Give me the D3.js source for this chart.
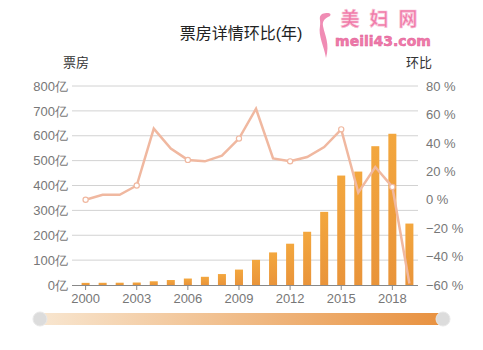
<!DOCTYPE html>
<html>
<head>
<meta charset="utf-8">
<script src="https://cdn.jsdelivr.net/npm/d3@7"></script>
<style>
  body { margin: 0; background: #fff; }
  svg { display: block; font-family: "Liberation Sans", "Noto Sans CJK SC", sans-serif; }
  .axis text { fill: #777; font-size: 13px; }
  .axis path, .axis line { stroke: #888; }
</style>
</head>
<body>
<div id="chart"></div>
<script>
const years = d3.range(2000, 2020).map(String);
const boxOffice = [8.6, 8.9, 9.2, 10, 15, 20, 26, 33, 44, 62, 101, 131, 166, 214, 294, 440, 456, 558, 608, 247];
const ratio = [0, 3.5, 3.5, 10, 50, 36, 28, 27, 31, 43, 64, 29, 27, 30, 37, 49.5, 5, 23, 9, -59];
const leftTicks = [0, 100, 200, 300, 400, 500, 600, 700, 800];
const rightTicks = [-60, -40, -20, 0, 20, 40, 60, 80];
const xTickYears = ['2000', '2003', '2006', '2009', '2012', '2015', '2018'];

function drawChart() {
    const W = 483, H = 350;
    const svg = d3.select('#chart').append('svg')
        .attr('width', W)
        .attr('height', H);

    const top = 86, bottom = 285, left = 77, right = 418;

    const x = d3.scaleBand().domain(years).range([left, right]).paddingInner(0.53).paddingOuter(0.27);
    const yL = d3.scaleLinear().domain([0, 800]).range([bottom, top]);
    const yR = d3.scaleLinear().domain([-60, 80]).range([bottom, top]);

    const defs = svg.append('defs');
    const barGrad = defs.append('linearGradient').attr('id', 'barGrad')
        .attr('x1', 0).attr('y1', 0).attr('x2', 0).attr('y2', 1);
    barGrad.append('stop').attr('offset', '0%').attr('stop-color', '#f3a73e');
    barGrad.append('stop').attr('offset', '100%').attr('stop-color', '#e9943a');

    const slideGrad = defs.append('linearGradient').attr('id', 'slideGrad');
    slideGrad.append('stop').attr('offset', '0%').attr('stop-color', '#f8e6d0');
    slideGrad.append('stop').attr('offset', '100%').attr('stop-color', '#e8913f');

    // Title + axis names
    svg.append('text')
        .attr('x', 241).attr('y', 39)
        .attr('text-anchor', 'middle')
        .style('font-size', '16px').style('fill', '#222')
        .text('票房详情环比(年)');
    svg.append('text').attr('x', 76).attr('y', 67).attr('text-anchor', 'middle')
        .style('font-size', '13px').style('fill', '#333').text('票房');
    svg.append('text').attr('x', 419).attr('y', 67).attr('text-anchor', 'middle')
        .style('font-size', '13px').style('fill', '#333').text('环比');

    // Watermark
    svg.append('path')
        .attr('d', 'M322,14 C328,12 332,13 330,16 C326,18 322,20 323,26 C325,36 330,44 326,58 C324,46 318,36 320,26 C321,20 318,17 322,14 Z')
        .attr('fill', '#f08cb4');
    svg.append('text')
        .attr('x', 384).attr('y', 26).attr('text-anchor', 'middle')
        .style('font-size', '19px').style('font-weight', 'bold')
        .style('letter-spacing', '10px')
        .style('font-family', '"Noto Sans CJK SC", sans-serif')
        .attr('fill', '#f07aa8').attr('stroke', '#f8c4d8').attr('stroke-width', 0.6)
        .text('美妇网');
    svg.append('text')
        .attr('x', 383).attr('y', 46).attr('text-anchor', 'middle')
        .style('font-size', '14px').style('font-weight', 'bold')
        .style('font-family', '"DejaVu Sans", sans-serif')
        .attr('fill', '#f07aa8').attr('stroke', '#e0609a').attr('stroke-width', 0.5)
        .text('meili43.com');

    // Grid lines
    svg.append('g').selectAll('line')
        .data(leftTicks.filter(d => d > 0))
        .join('line')
        .attr('x1', 72).attr('x2', right)
        .attr('y1', d => yL(d)).attr('y2', d => yL(d))
        .attr('stroke', '#d2d2d2');

    // Left axis
    svg.append('g').attr('class', 'axis')
        .attr('transform', 'translate(68,0)')
        .call(d3.axisLeft(yL).tickValues(leftTicks).tickSize(0).tickPadding(0).tickFormat(d => d + '亿'))
        .call(g => g.select('.domain').remove());

    // Right axis
    svg.append('g').attr('class', 'axis')
        .attr('transform', 'translate(426,0)')
        .call(d3.axisRight(yR).tickValues(rightTicks).tickSize(0).tickPadding(0).tickFormat(d => (d < 0 ? '\u2212' + (-d) : d) + ' %'))
        .call(g => g.select('.domain').remove());

    // Bars
    svg.append('g').selectAll('rect')
        .data(boxOffice)
        .join('rect')
        .attr('x', (d, i) => x(years[i]))
        .attr('y', d => yL(d))
        .attr('width', x.bandwidth())
        .attr('height', d => yL(0) - yL(d))
        .attr('fill', 'url(#barGrad)');

    // Bottom axis
    const xAxis = svg.append('g').attr('class', 'axis')
        .attr('transform', `translate(0,${bottom})`)
        .call(d3.axisBottom(x).tickValues(xTickYears).tickSize(5).tickPadding(4).tickSizeOuter(0));
    xAxis.select('.domain').attr('d', `M72,0.5H${right}`);

    // Ratio line
    const cx = (d, i) => x(years[i]) + x.bandwidth() / 2;
    const line = d3.line().x(cx).y(d => yR(d));
    svg.append('path')
        .datum(ratio)
        .attr('d', line)
        .attr('fill', 'none')
        .attr('stroke', '#f0b8a0')
        .attr('stroke-width', 2.5);

    svg.append('g').selectAll('circle')
        .data(ratio.map((v, i) => ({ v, i })).filter(d => d.i % 3 === 0))
        .join('circle')
        .attr('cx', d => cx(d.v, d.i))
        .attr('cy', d => yR(d.v))
        .attr('r', 2.6)
        .attr('fill', '#fff')
        .attr('stroke', '#f0b8a0')
        .attr('stroke-width', 1.2);

    // Slider
    svg.append('rect')
        .attr('x', 40).attr('y', 313).attr('width', 403).attr('height', 12)
        .attr('fill', 'url(#slideGrad)');
    [40, 443].forEach(hx => {
        svg.append('circle')
            .attr('cx', hx).attr('cy', 319).attr('r', 7)
            .attr('fill', '#dcdcdc').attr('stroke', '#e8e8e8');
    });
}

drawChart();
</script>
</body>
</html>
